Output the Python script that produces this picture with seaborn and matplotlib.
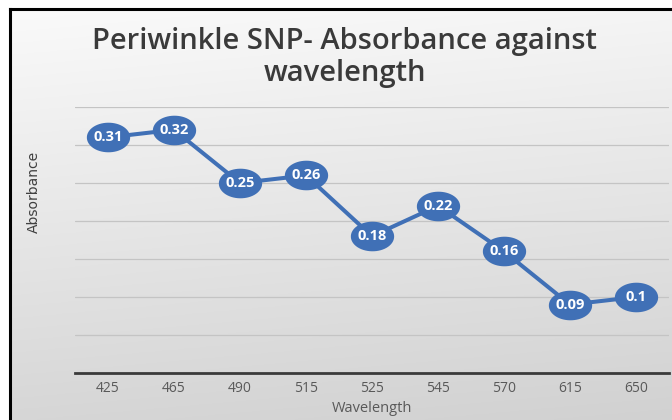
import numpy as np
import pandas as pd
import matplotlib
matplotlib.use("Agg")
import matplotlib.pyplot as plt
from matplotlib.path import Path
import seaborn as sns

wavelengths = ["425", "465", "490", "515", "525", "545", "570", "615", "650"]
absorbance = [0.31, 0.32, 0.25, 0.26, 0.18, 0.22, 0.16, 0.09, 0.10]
point_labels = ["0.31", "0.32", "0.25", "0.26", "0.18", "0.22", "0.16", "0.09", "0.1"]

df = pd.DataFrame({"Wavelength": wavelengths, "Absorbance": absorbance})

sns.set_theme(style="white")
plt.rcParams["font.family"] = ["Open Sans", "DejaVu Sans"]

blue = "#4070B6"

fig = plt.figure(figsize=(6.72, 4.2), dpi=100)
fig.patch.set_facecolor("white")

# background panel with a soft grey gradient and black left/top frame
bg = fig.add_axes([10 / 672, 0, 662 / 672, 411 / 420])
rows = np.linspace(0.98, 0.84, 200)[:, None]
cols = np.linspace(0.0, 0.02, 200)[None, :]
grad = np.clip(rows - cols, 0, 1)
bg.imshow(np.dstack([grad, grad, grad]), aspect="auto", extent=[0, 1, 0, 1])
bg.set_xticks([])
bg.set_yticks([])
for side in ["right", "bottom"]:
    bg.spines[side].set_visible(False)
for side in ["left", "top"]:
    bg.spines[side].set_color("black")
    bg.spines[side].set_linewidth(2.2)

ax = fig.add_axes([75 / 672, 47 / 420, 594 / 672, 266 / 420])
ax.patch.set_alpha(0)

theta = np.linspace(0, 2 * np.pi, 60)
ellipse = Path(np.column_stack([np.cos(theta), 0.66 * np.sin(theta)]), closed=True)

sns.pointplot(data=df, x="Wavelength", y="Absorbance", ax=ax, color=blue,
              marker=ellipse, markersize=29, linewidth=2.9, errorbar=None)

for i, (v, lab) in enumerate(zip(absorbance, point_labels)):
    ax.text(i, v, lab, ha="center", va="center", color="white",
            fontsize=10.5, fontweight="bold", zorder=10)

ax.set_ylim(0, 0.35)
ax.set_xlim(-0.5, len(wavelengths) - 0.5)
ax.set_yticks(np.arange(0.05, 0.351, 0.05))
ax.set_yticklabels([])
ax.tick_params(axis="y", length=0)
ax.tick_params(axis="x", length=0, labelsize=10, labelcolor="#595959", pad=6)
ax.yaxis.grid(True, color="#c4c4c4", linewidth=0.9)
ax.set_axisbelow(True)
for side in ["left", "right", "top"]:
    ax.spines[side].set_visible(False)
ax.spines["bottom"].set_color("#3a3a3a")
ax.spines["bottom"].set_linewidth(2)

ax.set_xlabel("Wavelength", fontsize=10.5, color="#595959", labelpad=3)
ax.set_ylabel("Absorbance", fontsize=10, color="#404040",
              family=["Liberation Sans Narrow", "DejaVu Sans"])
ax.yaxis.set_label_coords(-0.058, 0.68)

fig.text(0.513, 0.935, "Periwinkle SNP- Absorbance against\nwavelength",
         ha="center", va="top", fontsize=21, fontweight="semibold",
         color="#3a3a3a", linespacing=1.12)

fig.savefig("out.png", dpi=100)
